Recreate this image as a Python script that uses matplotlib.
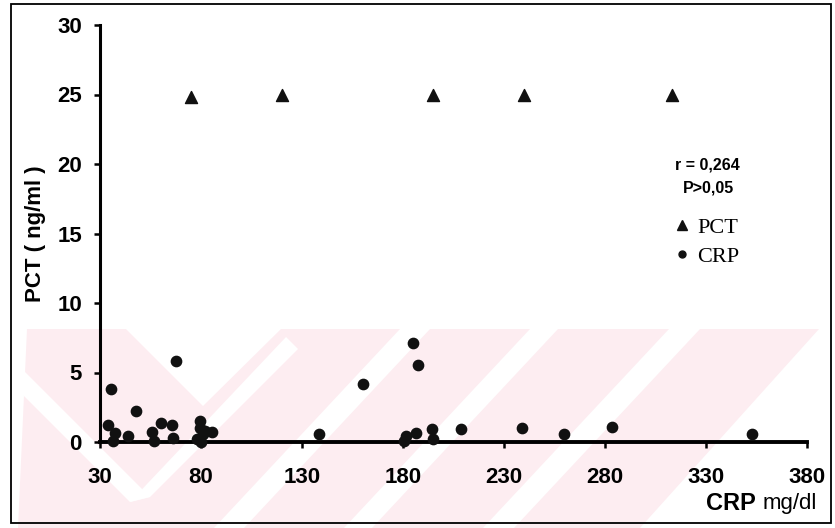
# import Libraries
import matplotlib
matplotlib.use("Agg")
import matplotlib.pyplot as plt
from matplotlib.patches import Polygon, Rectangle
from matplotlib.lines import Line2D

# PCT values (triangles)
pct_x = [75, 120, 195, 240, 313]
pct_y = [24.8, 25.0, 25.0, 25.0, 25.0]

# CRP values (circles)
crp_x = [35.4, 67.5, 34, 37.4, 36.4, 47.8, 43.7, 55.6, 56.7, 60, 65.5, 66,
         79.5, 79.5, 77.9, 81, 85.3, 80, 82,
         138.4, 160, 185.1, 187.6, 181.3, 180.5, 186.3, 194.2, 194.7,
         208.5, 238.7, 259.5, 283.3, 353]
crp_y = [3.8, 5.8, 1.2, 0.65, 0.1, 2.2, 0.4, 0.75, 0.1, 1.35, 1.2, 0.3,
         1.5, 1.0, 0.25, 0.6, 0.75, 0.0, 0.8,
         0.6, 4.2, 7.1, 5.55, 0.45, 0.1, 0.65, 0.95, 0.25,
         0.95, 1.0, 0.6, 1.05, 0.6]

x_ticks = [30, 80, 130, 180, 230, 280, 330, 380]
y_ticks = [0, 5, 10, 15, 20, 25, 30]

W, H = 835, 528
sans = "Liberation Sans"
serif = "Liberation Serif"


def px(x, y):
    # pixel (top-left origin) -> figure fraction
    return (x / W, 1 - y / H)


fig = plt.figure(figsize=(W / 100, H / 100), dpi=100)

# faint watermark in the lower part (drawn behind the axes)
pink = "#fdedf1"
shapes_pink = [[(27, 329), (819, 329), (640, 528), (18, 528)]]
shapes_white = [
    [(126, 329), (281, 329), (203, 406)],
    [(0, 347), (0, 372), (130, 502), (150, 497)],
    [(130, 502), (150, 497), (298, 349), (286, 337)],
    [(400, 329), (430, 329), (244, 528), (214, 528)],
    [(530, 329), (558, 329), (372, 528), (344, 528)],
    [(669, 329), (700, 329), (514, 528), (483, 528)],
]
for pts in shapes_pink:
    fig.patches.append(Polygon([px(*p) for p in pts], closed=True, transform=fig.transFigure,
                               facecolor=pink, edgecolor="none", zorder=-10))
for pts in shapes_white:
    fig.patches.append(Polygon([px(*p) for p in pts], closed=True, transform=fig.transFigure,
                               facecolor="white", edgecolor="none", zorder=-9))

# outer frame
fig.patches.append(Rectangle(px(11, 523), 820 / W, 519 / H, transform=fig.transFigure,
                             fill=False, edgecolor="black", linewidth=1.3, zorder=-8))

ax = fig.add_axes([100 / W, 1 - 442 / H, 707 / W, 417 / H])
ax.set_zorder(2)
ax.patch.set_alpha(0)

ax.scatter(crp_x, crp_y, marker="o", s=55, color="#111111", zorder=3, clip_on=False)
ax.scatter(pct_x, pct_y, marker="^", s=75, color="#111111", zorder=3, clip_on=False)

ax.set_xlim(30, 380)
ax.set_ylim(0, 30)
ax.set_xticks(x_ticks)
ax.set_yticks(y_ticks)
for s in ["top", "right"]:
    ax.spines[s].set_visible(False)
ax.spines["left"].set_linewidth(2.2)
ax.spines["bottom"].set_linewidth(2.8)
ax.tick_params(axis="both", direction="out", length=4, width=1.8, colors="black")
ax.tick_params(axis="x", pad=14)
ax.tick_params(axis="y", pad=9)
for lab in ax.get_xticklabels() + ax.get_yticklabels():
    lab.set_fontfamily(sans)
    lab.set_fontweight("bold")
    lab.set_fontsize(16)

# axis titles
fig.text(*px(35, 234), "PCT ( ng/ml )", rotation=90, ha="center", va="center",
         fontfamily=sans, fontweight="bold", fontsize=16)
fig.text(*px(756, 503), "CRP", ha="right", va="center",
         fontfamily=sans, fontweight="bold", fontsize=17)
fig.text(*px(763, 504), "mg/dl", ha="left", va="center",
         fontfamily=sans, fontsize=16)

# statistics
fig.text(*px(707, 165), "r = 0,264", ha="center", va="center",
         fontfamily=sans, fontweight="bold", fontsize=11.5)
fig.text(*px(708, 188), "P>0,05", ha="center", va="center",
         fontfamily=sans, fontweight="bold", fontsize=11.5)

# legend
handles = [Line2D([], [], linestyle="none", marker="^", markersize=7, color="#111111"),
           Line2D([], [], linestyle="none", marker="o", markersize=5, color="#111111")]
fig.legend(handles, ["PCT", "CRP"], loc="upper left", bbox_to_anchor=px(664, 206),
           frameon=False, prop={"family": serif, "size": 16},
           handlelength=0.6, handletextpad=0.4, labelspacing=0.4, borderpad=0)

plt.savefig("out.png", dpi=100)
